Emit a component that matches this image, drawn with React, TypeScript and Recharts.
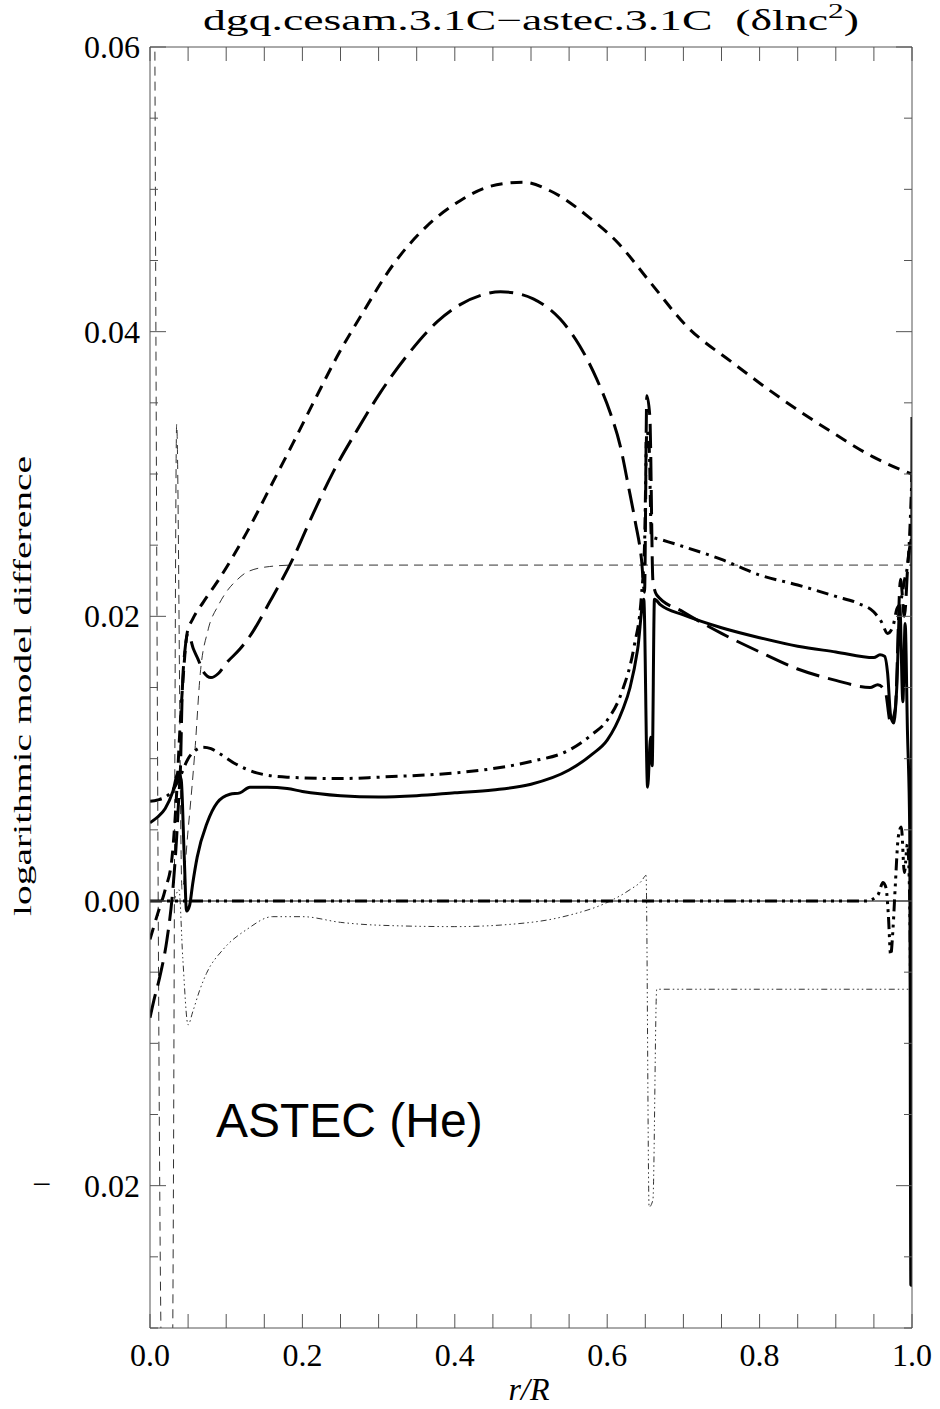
import React from 'react';
import { ComposedChart, Line, XAxis, YAxis, ReferenceLine } from 'recharts';

// ---- axis ticks ----
const xTicks = [0, 0.05, 0.1, 0.15, 0.2, 0.25, 0.3, 0.35, 0.4, 0.45, 0.5, 0.55, 0.6, 0.65, 0.7, 0.75, 0.8, 0.85, 0.9, 0.95, 1.0];
const xMajor = [0, 0.2, 0.4, 0.6, 0.8, 1.0];
const yTicks = [-0.03, -0.025, -0.02, -0.015, -0.01, -0.005, 0, 0.005, 0.01, 0.015, 0.02, 0.025, 0.03, 0.035, 0.04, 0.045, 0.05, 0.055, 0.06];
const yMajor = [-0.02, 0, 0.02, 0.04, 0.06];

// ---- series (r/R, value) ----
const solidR = [0, 0.01, 0.02, 0.03, 0.037, 0.041, 0.045, 0.048, 0.052, 0.056, 0.062, 0.075, 0.088, 0.105, 0.118, 0.131, 0.154, 0.18, 0.2, 0.25, 0.3, 0.35, 0.4, 0.45, 0.5, 0.55, 0.58, 0.6, 0.62, 0.63, 0.64, 0.648, 0.653, 0.657, 0.659, 0.662, 0.67, 0.7, 0.75, 0.8, 0.85, 0.9, 0.95, 0.958, 0.964, 0.968, 0.972, 0.976, 0.98, 0.984, 0.988, 0.991, 0.994, 0.997, 0.9985, 1.0];
const solidV = [0.0055, 0.0059, 0.0065, 0.0077, 0.009, 0.0085, 0.003, -0.0007, -0.0003, 0.0012, 0.0031, 0.0055, 0.0069, 0.0075, 0.0076, 0.008, 0.008, 0.0079, 0.0077, 0.0074, 0.0073, 0.0074, 0.0076, 0.0078, 0.0082, 0.0092, 0.0103, 0.0113, 0.0134, 0.015, 0.0177, 0.0212, 0.008, 0.0115, 0.0095, 0.0212, 0.0208, 0.0201, 0.0192, 0.0185, 0.0179, 0.0175, 0.0171, 0.0173, 0.0172, 0.016, 0.013, 0.0125, 0.015, 0.0207, 0.014, 0.0195, 0.012, 0.005, -0.027, 0.034];

const dashDotR = [0, 0.01, 0.02, 0.03, 0.04, 0.05, 0.06, 0.07, 0.08, 0.09, 0.11, 0.14, 0.18, 0.25, 0.3, 0.4, 0.45, 0.5, 0.55, 0.58, 0.6, 0.62, 0.635, 0.645, 0.649, 0.652, 0.655, 0.658, 0.67, 0.7, 0.75, 0.8, 0.85, 0.9, 0.93, 0.95, 0.96, 0.968, 0.975, 0.98, 0.985, 0.99, 0.995, 1.0];
const dashDotV = [0.007, 0.0071, 0.0073, 0.0078, 0.0088, 0.01, 0.0106, 0.0108, 0.0107, 0.0104, 0.0097, 0.009, 0.0087, 0.0086, 0.0087, 0.009, 0.0093, 0.0098, 0.0106, 0.0117, 0.0127, 0.0148, 0.0178, 0.0215, 0.025, 0.033, 0.032, 0.0256, 0.0254, 0.0249, 0.024, 0.0229, 0.0222, 0.0214, 0.0209, 0.0203, 0.0196, 0.0188, 0.0193, 0.0205, 0.021, 0.0225, 0.024, 0.03];

const longDashR = [0, 0.005, 0.013, 0.022, 0.03, 0.035, 0.038, 0.04, 0.042, 0.046, 0.05, 0.057, 0.063, 0.07, 0.08, 0.09, 0.1, 0.118, 0.131, 0.157, 0.188, 0.214, 0.24, 0.272, 0.302, 0.337, 0.377, 0.407, 0.437, 0.46, 0.48, 0.503, 0.538, 0.564, 0.586, 0.604, 0.617, 0.628, 0.637, 0.645, 0.649, 0.652, 0.656, 0.66, 0.665, 0.7, 0.75, 0.8, 0.85, 0.9, 0.945, 0.955, 0.965, 0.972, 0.978, 0.985, 0.99, 0.995, 1.0];
const longDashV = [-0.0082, -0.007, -0.0053, -0.0028, 0.0008, 0.0045, 0.0075, 0.0094, 0.0141, 0.0177, 0.0188, 0.0177, 0.017, 0.0161, 0.0157, 0.016, 0.0167, 0.0177, 0.0186, 0.021, 0.0241, 0.0272, 0.0301, 0.0331, 0.0357, 0.0383, 0.0407, 0.0419, 0.0426, 0.0428, 0.0427, 0.0423, 0.0409, 0.039, 0.0367, 0.0343, 0.032, 0.0291, 0.0266, 0.024, 0.0217, 0.0355, 0.034, 0.0225, 0.0215, 0.0203, 0.0188, 0.0175, 0.0163, 0.0155, 0.015, 0.0152, 0.0147, 0.0125, 0.0135, 0.0226, 0.02, 0.024, 0.0256];

const shortDashR = [0, 0.01, 0.02, 0.029, 0.035, 0.039, 0.043, 0.049, 0.056, 0.07, 0.088, 0.127, 0.161, 0.188, 0.219, 0.245, 0.28, 0.319, 0.363, 0.407, 0.44, 0.463, 0.49, 0.525, 0.577, 0.613, 0.656, 0.704, 0.765, 0.831, 0.896, 0.949, 0.995, 1.0];
const shortDashV = [-0.0027, -0.0009, 0.0008, 0.0031, 0.0076, 0.0118, 0.0153, 0.0189, 0.0198, 0.021, 0.0224, 0.0259, 0.0294, 0.0322, 0.0355, 0.0382, 0.0414, 0.0447, 0.0474, 0.0492, 0.0501, 0.0504, 0.0505, 0.0499, 0.048, 0.0463, 0.0435, 0.0404, 0.0378, 0.0352, 0.0329, 0.0312, 0.0301, 0.03];

const thinDashR = [0.006, 0.016, 0.029, 0.035, 0.042, 0.05, 0.059, 0.066, 0.076, 0.09, 0.1, 0.115, 0.127, 0.157, 0.19, 1.0];
const thinDashV = [0.066, -0.034, -0.034, 0.0335, 0.0008, 0.005, 0.0106, 0.016, 0.019, 0.0208, 0.0217, 0.0226, 0.0231, 0.0235, 0.0236, 0.0236];

const thinDddR = [0, 0.03, 0.038, 0.043, 0.05, 0.056, 0.065, 0.074, 0.096, 0.127, 0.161, 0.2, 0.25, 0.3, 0.4, 0.5, 0.55, 0.6, 0.63, 0.645, 0.651, 0.655, 0.66, 0.665, 1.0];
const thinDddV = [0, 0, 0.0008, -0.004, -0.0087, -0.0078, -0.0063, -0.0051, -0.0034, -0.002, -0.0011, -0.0011, -0.0015, -0.0017, -0.0018, -0.0015, -0.001, -0.0001, 0.0008, 0.0014, 0.0018, -0.0215, -0.021, -0.0062, -0.0062];

const zeroR = [0, 0.5, 0.94, 0.955, 0.962, 0.966, 0.969, 0.972, 0.975, 0.978, 0.982, 0.986, 0.99, 0.994, 0.997, 1.0];
const zeroV = [0, 0, 0, 0.0004, 0.0013, 0.0009, -0.001, -0.0038, -0.002, 0.001, 0.0045, 0.0052, 0.002, 0.004, 0, -0.027];

const mk = (rs: number[], vs: number[]) => rs.map((r, i) => ({ r, v: vs[i] }));

const solidData = mk(solidR, solidV);
const dashDotData = mk(dashDotR, dashDotV);
const longDashData = mk(longDashR, longDashV);
const shortDashData = mk(shortDashR, shortDashV);
const thinDashData = mk(thinDashR, thinDashV);
const thinDddData = mk(thinDddR, thinDddV);
const zeroData = mk(zeroR, zeroV);

const FRAME = '#555';
const SERIF = '"Liberation Serif", "DejaVu Serif", serif';
const isIn = (arr: number[], v: number) => arr.some((m) => Math.abs(m - v) < 1e-9);

const BottomTick = (p: any) => {
  const { x, y, payload } = p;
  const v = payload.value;
  const major = isIn(xMajor, v);
  return (
    <g>
      <line x1={x} y1={y} x2={x} y2={y - 14} stroke={FRAME} strokeWidth={1} />
      {major && (
        <text x={x} y={y + 38} textAnchor="middle" fontFamily={SERIF} fontSize={32} fill="#000">
          {v.toFixed(1)}
        </text>
      )}
    </g>
  );
};

const TopTick = (p: any) => {
  const { x, y } = p;
  return <line x1={x} y1={y} x2={x} y2={y + 14} stroke={FRAME} strokeWidth={1} />;
};

const LeftTick = (p: any) => {
  const { x, y, payload } = p;
  const v = payload.value;
  const major = isIn(yMajor, v);
  const len = major ? 16 : 8;
  const neg = v < -1e-9;
  const txt = Math.abs(v).toFixed(2);
  return (
    <g>
      <line x1={x} y1={y} x2={x + len} y2={y} stroke={FRAME} strokeWidth={1} />
      {major && (
        <text x={x - 10} y={y + 11} textAnchor="end" fontFamily={SERIF} fontSize={32} fill="#000">
          {txt}
        </text>
      )}
      {major && neg && (
        <text
          x={x - 118}
          y={y + 9}
          textAnchor="start"
          fontFamily={SERIF}
          fontSize={32}
          fill="#000"
          textLength={19}
          lengthAdjust="spacingAndGlyphs"
        >
          {'\u2212'}
        </text>
      )}
    </g>
  );
};

const RightTick = (p: any) => {
  const { x, y, payload } = p;
  const major = isIn(yMajor, payload.value);
  const len = major ? 16 : 8;
  return <line x1={x} y1={y} x2={x - len} y2={y} stroke={FRAME} strokeWidth={1} />;
};

export default function App() {
  const W = 940;
  const H = 1409;
  return (
    <div style={{ position: 'absolute', left: 0, top: 0, width: W, height: H, background: '#fff' }}>
      <ComposedChart width={W} height={H} margin={{ top: 0, right: 0, bottom: 0, left: 0 }}>
        <XAxis
          xAxisId="b"
          dataKey="r"
          type="number"
          domain={[0, 1]}
          ticks={xTicks}
          interval={0}
          allowDataOverflow
          orientation="bottom"
          height={81}
          tickSize={0}
          tickMargin={0}
          tick={<BottomTick />}
          tickLine={false}
          axisLine={{ stroke: FRAME, strokeWidth: 1 }}
        />
        <XAxis
          xAxisId="t"
          dataKey="r"
          type="number"
          domain={[0, 1]}
          ticks={xTicks}
          interval={0}
          allowDataOverflow
          orientation="top"
          height={47}
          tickSize={0}
          tickMargin={0}
          tick={<TopTick />}
          tickLine={false}
          axisLine={{ stroke: FRAME, strokeWidth: 1 }}
        />
        <YAxis
          yAxisId="l"
          type="number"
          domain={[-0.03, 0.06]}
          ticks={yTicks}
          interval={0}
          allowDataOverflow
          orientation="left"
          width={150}
          tickSize={0}
          tickMargin={0}
          tick={<LeftTick />}
          tickLine={false}
          axisLine={{ stroke: FRAME, strokeWidth: 1 }}
        />
        <YAxis
          yAxisId="r"
          type="number"
          domain={[-0.03, 0.06]}
          ticks={yTicks}
          interval={0}
          allowDataOverflow
          orientation="right"
          width={28}
          tickSize={0}
          tickMargin={0}
          tick={<RightTick />}
          tickLine={false}
          axisLine={{ stroke: FRAME, strokeWidth: 1 }}
        />
        <ReferenceLine xAxisId="b" yAxisId="l" y={0} stroke="#000" strokeWidth={1} />
        <Line xAxisId="b" yAxisId="l" data={thinDashData} dataKey="v" type="monotone" stroke="#333" strokeWidth={1} strokeDasharray="9 6" dot={false} isAnimationActive={false} />
        <Line xAxisId="b" yAxisId="l" data={thinDddData} dataKey="v" type="monotone" stroke="#333" strokeWidth={1} strokeDasharray="6 3 1.5 3 1.5 3 1.5 3" dot={false} isAnimationActive={false} />
        <Line xAxisId="b" yAxisId="l" data={zeroData} dataKey="v" type="monotone" stroke="#000" strokeWidth={3} strokeDasharray="12 5 3 5 3 5 3 5" dot={false} isAnimationActive={false} />
        <Line xAxisId="b" yAxisId="l" data={shortDashData} dataKey="v" type="monotone" stroke="#000" strokeWidth={3} strokeDasharray="12 8" dot={false} isAnimationActive={false} />
        <Line xAxisId="b" yAxisId="l" data={longDashData} dataKey="v" type="monotone" stroke="#000" strokeWidth={3} strokeDasharray="24 9" dot={false} isAnimationActive={false} />
        <Line xAxisId="b" yAxisId="l" data={dashDotData} dataKey="v" type="monotone" stroke="#000" strokeWidth={3} strokeDasharray="12 6 3 6" dot={false} isAnimationActive={false} />
        <Line xAxisId="b" yAxisId="l" data={solidData} dataKey="v" type="monotone" stroke="#000" strokeWidth={3} dot={false} isAnimationActive={false} />
      </ComposedChart>
      <svg width={W} height={H} style={{ position: 'absolute', left: 0, top: 0, pointerEvents: 'none' }}>
        <text
          x={531}
          y={30}
          textAnchor="middle"
          fontFamily={SERIF}
          fontSize={29}
          fill="#000"
          textLength={656}
          lengthAdjust="spacingAndGlyphs"
          style={{ whiteSpace: 'pre' }}
        >
          {'dgq.cesam.3.1C\u2212astec.3.1C  (\u03b4lnc'}
          <tspan dy={-12} fontSize={20}>2</tspan>
          <tspan dy={12}>)</tspan>
        </text>
        <text
          x={31}
          y={686}
          transform="rotate(-90 31 686)"
          textAnchor="middle"
          fontFamily={SERIF}
          fontSize={25}
          fill="#000"
          textLength={460}
          lengthAdjust="spacingAndGlyphs"
        >
          logarithmic model difference
        </text>
        <text x={529} y={1400} textAnchor="middle" fontFamily={SERIF} fontStyle="italic" fontSize={32} fill="#000">
          r/R
        </text>
        <text x={216} y={1137} fontFamily='"Liberation Sans", Arial, sans-serif' fontSize={48} fill="#000">
          ASTEC (He)
        </text>
      </svg>
    </div>
  );
}
